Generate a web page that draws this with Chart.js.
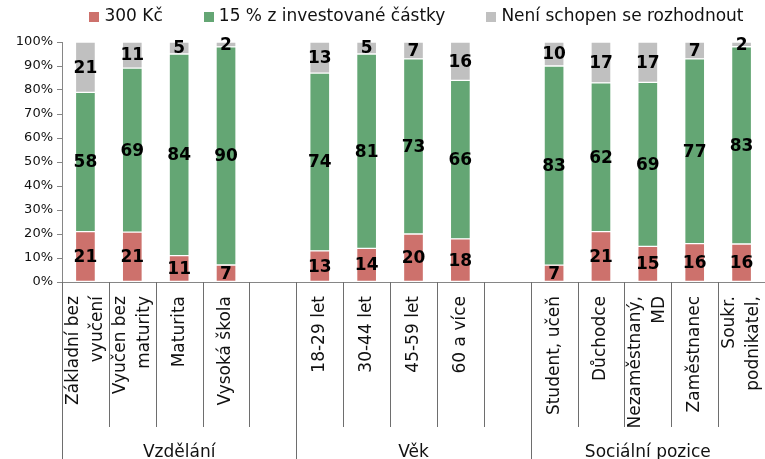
<!DOCTYPE html>
<html lang="cs">
<head>
<meta charset="UTF-8">
<title>Odměna – 300 Kč nebo 15 %</title>
<script src="https://cdn.jsdelivr.net/npm/chart.js"></script>
<style>
  body { margin: 0; background: #fff; }
  #wrap { position: relative; width: 765px; height: 459px; }
</style>
</head>
<body>
<div id="wrap"><canvas id="chart"></canvas></div>
<script>
// categories (empty strings leave a gap between groups)
const categories = [
  ['Základní bez', 'vyučení'], ['Vyučen bez', 'maturity'], ['Maturita'], ['Vysoká škola'], [],
  ['18-29 let'], ['30-44 let'], ['45-59 let'], ['60 a více'], [],
  ['Student, učeň'], ['Důchodce'], ['Nezaměstnaný,', 'MD'], ['Zaměstnanec'], ['Soukr.', 'podnikatel,']
];
const groupNames = ['Vzdělání', 'Věk', 'Sociální pozice'];
const groupSizes = [5, 5, 5];

const seriesNames = ['300 Kč', '15 % z investované částky', 'Není schopen se rozhodnout'];
const fixed300 = [21, 21, 11, 7, null, 13, 14, 20, 18, null, 7, 21, 15, 16, 16];
const percent15 = [58, 69, 84, 90, null, 74, 81, 73, 66, null, 83, 62, 69, 77, 83];
const undecided = [21, 11, 5, 2, null, 13, 5, 7, 16, null, 10, 17, 17, 7, 2];
const seriesColors = ['#cd716c', '#64a674', '#c0c0c0'];

const FONT = 'DejaVu Sans';
Chart.defaults.font.family = FONT;

const raw = [fixed300, percent15, undecided];
// 100 % stacked: each column is scaled to its own total
const totals = categories.map((c, i) =>
  raw.every(s => s[i] == null) ? null : raw.reduce((t, s) => t + (s[i] || 0), 0));
const shares = raw.map(s => s.map((v, i) => v == null ? null : v / totals[i] * 100));

const valueLabels = {
  id: 'valueLabels',
  afterDatasetsDraw(chart) {
    const ctx = chart.ctx;
    ctx.save();
    ctx.font = 'bold 17px ' + FONT;
    ctx.fillStyle = '#000';
    ctx.textAlign = 'center';
    ctx.textBaseline = 'middle';
    chart.data.datasets.forEach((ds, di) => {
      chart.getDatasetMeta(di).data.forEach((el, i) => {
        const v = raw[di][i];
        if (v == null) return;
        ctx.fillText(String(v), el.x, (el.y + el.base) / 2 + 1);
      });
    });
    ctx.restore();
  }
};

const axisDecor = {
  id: 'axisDecor',
  afterDraw(chart) {
    const ctx = chart.ctx;
    const x = chart.scales.x;
    const area = chart.chartArea;
    const n = categories.length;
    const step = x.width / n;
    const groupStarts = [0];
    groupSizes.forEach(s => groupStarts.push(groupStarts[groupStarts.length - 1] + s));

    ctx.save();
    // separators between categories, longer ones between groups
    ctx.strokeStyle = '#6e6e6e';
    ctx.lineWidth = 1;
    for (let k = 0; k <= n; k++) {
      const px = Math.round(x.left + k * step) + 0.5;
      const long = groupStarts.includes(k);
      ctx.beginPath();
      ctx.moveTo(px, area.bottom);
      ctx.lineTo(px, long ? chart.height : area.bottom + 145);
      ctx.stroke();
    }

    // rotated category labels
    ctx.font = '17px ' + FONT;
    ctx.fillStyle = '#111';
    ctx.textAlign = 'right';
    ctx.textBaseline = 'middle';
    const lh = 24;
    categories.forEach((lines, i) => {
      const cx = x.getPixelForValue(i);
      lines.forEach((line, j) => {
        ctx.save();
        ctx.translate(cx + (j - (lines.length - 1) / 2) * lh, area.bottom + 14);
        ctx.rotate(-Math.PI / 2);
        ctx.fillText(line, 0, 0);
        ctx.restore();
      });
    });

    // group labels
    ctx.textAlign = 'center';
    groupNames.forEach((name, g) => {
      const gx = x.left + (groupStarts[g] + groupStarts[g + 1]) / 2 * step;
      ctx.fillText(name, gx, area.bottom + 171);
    });

    // legend across the top
    ctx.font = '17px ' + FONT;
    ctx.textAlign = 'left';
    const box = 10, gap = 5, spacing = 41;
    const widths = seriesNames.map(t => box + gap + ctx.measureText(t).width);
    const total = widths.reduce((a, b) => a + b, 0) + spacing * (widths.length - 1);
    let lx = (area.left + area.right) / 2 - total / 2 + 3;
    seriesNames.forEach((t, i) => {
      ctx.fillStyle = seriesColors[i];
      ctx.fillRect(Math.round(lx), 12, box, box);
      ctx.fillStyle = '#111';
      ctx.fillText(t, lx + box + gap, 17);
      lx += widths[i] + spacing;
    });
    ctx.restore();
  }
};

new Chart(document.getElementById('chart'), {
  type: 'bar',
  data: {
    labels: categories.map(c => c.join(' ')),
    datasets: seriesNames.map((name, i) => ({
      label: name,
      data: shares[i],
      backgroundColor: seriesColors[i],
      borderColor: '#ffffff',
      borderWidth: 1,
      borderSkipped: false,
      barThickness: 20
    }))
  },
  options: {
    responsive: true,
    maintainAspectRatio: false,
    animation: false,
    layout: { padding: { top: 42, right: 0, bottom: 0, left: 0 } },
    plugins: {
      legend: { display: false },
      tooltip: { enabled: false }
    },
    scales: {
      x: {
        stacked: true,
        grid: { display: false },
        border: { display: true, color: '#868686', width: 1 },
        ticks: { display: false },
        afterFit: s => { s.height = 177; }
      },
      y: {
        stacked: true,
        min: 0,
        max: 100,
        grid: { drawOnChartArea: false, drawTicks: true, tickLength: 5, color: '#868686' },
        border: { display: true, color: '#868686', width: 1 },
        ticks: {
          stepSize: 10,
          padding: 4,
          color: '#111',
          font: { size: 13 },
          callback: v => v + '%'
        },
        afterFit: s => { s.width = 62; }
      }
    }
  },
  plugins: [valueLabels, axisDecor]
});
</script>
</body>
</html>
